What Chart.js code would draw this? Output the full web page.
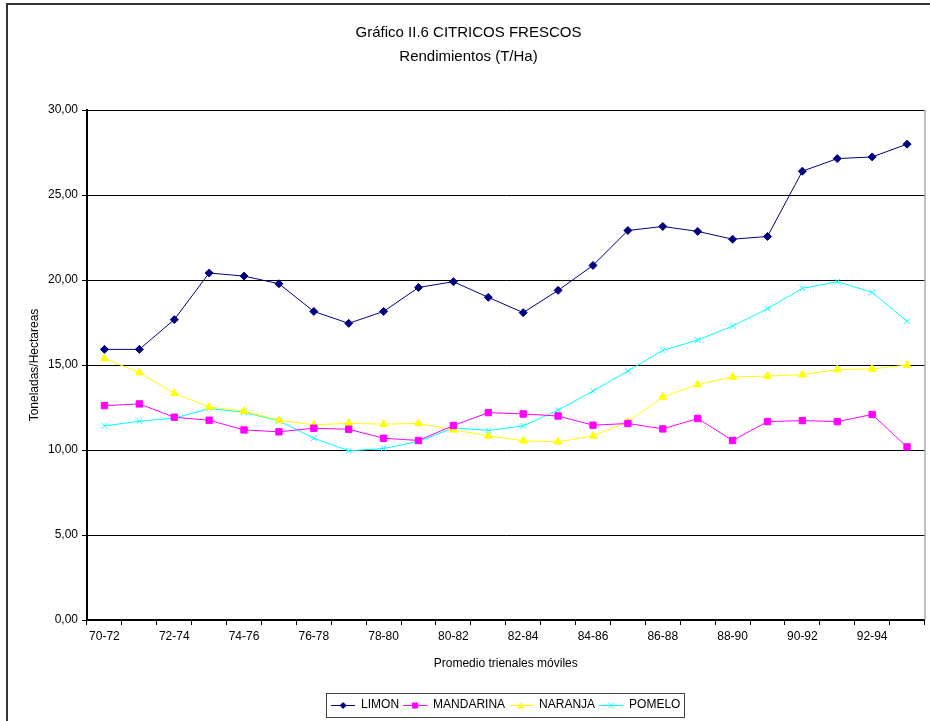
<!DOCTYPE html>
<html>
<head>
<meta charset="utf-8">
<script src="https://cdn.jsdelivr.net/npm/chart.js"></script>
<style>
  html, body { margin: 0; padding: 0; background: #fff; }
  #wrap { width: 930px; height: 721px; }
</style>
</head>
<body>
<div id="wrap"><canvas id="citricos" width="930" height="721"></canvas></div>
<script>
// periodos trienales moviles
const periodos = ['70-72', '71-73', '72-74', '73-75', '74-76', '75-77', '76-78', '77-79',
    '78-80', '79-81', '80-82', '81-83', '82-84', '83-85', '84-86', '85-87',
    '86-88', '87-89', '88-90', '89-91', '90-92', '91-93', '92-94', '93-95'];

const limon = [15.92, 15.92, 17.67, 20.41, 20.23, 19.78, 18.15, 17.45, 18.15, 19.56, 19.90, 18.98,
    18.08, 19.39, 20.86, 22.91, 23.15, 22.86, 22.40, 22.56, 26.40, 27.14, 27.24, 27.99];
const mandarina = [12.61, 12.71, 11.93, 11.75, 11.18, 11.07, 11.28, 11.22, 10.69, 10.56, 11.44, 12.20,
    12.12, 12.00, 11.46, 11.56, 11.24, 11.85, 10.56, 11.67, 11.73, 11.67, 12.09, 10.18];
const naranja = [15.38, 14.55, 13.34, 12.53, 12.28, 11.75, 11.48, 11.57, 11.52, 11.56, 11.18, 10.83,
    10.54, 10.48, 10.83, 11.65, 13.12, 13.85, 14.30, 14.35, 14.43, 14.73, 14.77, 15.00];
const pomelo = [11.42, 11.69, 11.87, 12.44, 12.22, 11.71, 10.69, 9.95, 10.09, 10.50, 11.30, 11.15,
    11.42, 12.34, 13.47, 14.65, 15.86, 16.47, 17.29, 18.31, 19.51, 19.90, 19.27, 17.57];

const yTicks = [0, 5, 10, 15, 20, 25, 30];

const FONT = 'Liberation Sans, Arial, sans-serif';

// small legend icons: line with the marker in the middle
function legendIcon(color, shape) {
    const c = document.createElement('canvas');
    c.width = 24; c.height = 10;
    const g = c.getContext('2d');
    g.strokeStyle = color; g.fillStyle = color; g.lineWidth = 1;
    g.beginPath(); g.moveTo(0, 5.5); g.lineTo(24, 5.5); g.stroke();
    const cx = 12, cy = 5.5;
    g.beginPath();
    if (shape === 'diamond') {
        g.moveTo(cx, cy - 3.5); g.lineTo(cx + 3.5, cy); g.lineTo(cx, cy + 3.5); g.lineTo(cx - 3.5, cy);
        g.closePath(); g.fill();
    } else if (shape === 'square') {
        g.rect(cx - 3, cy - 3, 6, 6); g.fill();
    } else if (shape === 'triangle') {
        g.moveTo(cx, cy - 3.5); g.lineTo(cx + 3.5, cy + 3); g.lineTo(cx - 3.5, cy + 3);
        g.closePath(); g.fill();
    } else {
        g.moveTo(cx - 3, cy - 3); g.lineTo(cx + 3, cy + 3);
        g.moveTo(cx + 3, cy - 3); g.lineTo(cx - 3, cy + 3); g.stroke();
    }
    return c;
}

const icons = [
    legendIcon('#000080', 'diamond'),
    legendIcon('#ff00ff', 'square'),
    legendIcon('#ffff00', 'triangle'),
    legendIcon('#00ffff', 'x')
];

// frame around the whole chart, right border of the plot and box around the legend
const extras = {
    id: 'extras',
    afterDraw(chart) {
        const ctx = chart.ctx;
        const a = chart.chartArea;
        ctx.save();
        ctx.strokeStyle = '#333';
        ctx.lineWidth = 2;
        ctx.beginPath();
        ctx.moveTo(7, 721); ctx.lineTo(7, 4); ctx.lineTo(930, 4);
        ctx.stroke();

        ctx.strokeStyle = '#808080';
        ctx.lineWidth = 1;
        ctx.beginPath();
        ctx.moveTo(a.right + 0.5, a.top); ctx.lineTo(a.right + 0.5, a.bottom);
        ctx.stroke();

        const hb = chart.legend.legendHitBoxes;
        if (hb && hb.length) {
            const l = Math.min(...hb.map(h => h.left)) - 5;
            const r = Math.max(...hb.map(h => h.left + h.width)) + 4;
            const t = hb[0].top - 6;
            const b = hb[0].top + hb[0].height + 6;
            ctx.strokeStyle = '#404040';
            ctx.strokeRect(Math.round(l) + 0.5, Math.round(t) + 0.5, Math.round(r - l), Math.round(b - t));
        }
        ctx.restore();
    }
};

new Chart(document.getElementById('citricos').getContext('2d'), {
    type: 'line',
    data: {
        labels: periodos,
        datasets: [{
            label: 'LIMON',
            data: limon,
            borderColor: '#000080',
            backgroundColor: '#000080',
            pointStyle: 'rectRot',
            pointRadius: 4
        }, {
            label: 'MANDARINA',
            data: mandarina,
            borderColor: '#ff00ff',
            backgroundColor: '#ff00ff',
            pointStyle: 'rect',
            pointRadius: 4.5
        }, {
            label: 'NARANJA',
            data: naranja,
            borderColor: '#ffff00',
            backgroundColor: '#ffff00',
            pointStyle: 'triangle',
            pointRadius: 4.5
        }, {
            label: 'POMELO',
            data: pomelo,
            borderColor: '#00ffff',
            backgroundColor: '#00ffff',
            pointStyle: 'crossRot',
            pointRadius: 4
        }]
    },
    options: {
        responsive: false,
        animation: false,
        layout: { padding: { left: 8, right: 1, top: 5, bottom: 0 } },
        elements: {
            line: { borderWidth: 1, tension: 0, fill: false },
            point: { borderWidth: 1 }
        },
        scales: {
            x: {
                offset: true,
                afterFit(scale) { scale.height = 75; },
                grid: {
                    offset: true,
                    drawOnChartArea: false,
                    color: '#000',
                    tickLength: 5,
                    tickColor: '#000'
                },
                border: { color: '#000', width: 2 },
                ticks: {
                    autoSkip: false,
                    maxRotation: 0,
                    padding: 4,
                    color: '#000',
                    font: { family: FONT, size: 12 },
                    callback: (v, i) => (i % 2 === 0 ? periodos[i] : '')
                },
                title: {
                    display: true,
                    text: 'Promedio trienales móviles',
                    color: '#000',
                    font: { family: FONT, size: 12 },
                    padding: { top: 0, bottom: 24 }
                }
            },
            y: {
                min: yTicks[0],
                max: yTicks[yTicks.length - 1],
                afterFit(scale) { scale.width = 79; },
                afterBuildTicks(scale) { scale.ticks = yTicks.map(v => ({ value: v })); },
                grid: { color: '#000', lineWidth: 1, tickLength: 5 },
                border: { color: '#000', width: 2 },
                ticks: {
                    padding: 4,
                    color: '#000',
                    font: { family: FONT, size: 12 },
                    callback: v => v.toFixed(2).replace('.', ',')
                },
                title: {
                    display: true,
                    text: 'Toneladas/Hectareas',
                    color: '#000',
                    font: { family: FONT, size: 12 },
                    padding: { top: 19, bottom: 0 }
                }
            }
        },
        plugins: {
            title: {
                display: true,
                text: ['Gráfico II.6 CITRICOS FRESCOS', 'Rendimientos (T/Ha)'],
                color: '#000',
                font: { family: FONT, size: 15, weight: 'normal', lineHeight: 1.6 },
                padding: { top: 16, bottom: 41 }
            },
            legend: {
                position: 'bottom',
                fullSize: false,
                labels: {
                    usePointStyle: true,
                    pointStyleWidth: 24,
                    boxHeight: 10,
                    padding: 4,
                    color: '#000',
                    font: { family: FONT, size: 12 },
                    generateLabels(chart) {
                        const items = Chart.defaults.plugins.legend.labels.generateLabels(chart);
                        items.forEach((it, i) => { it.pointStyle = icons[i]; });
                        return items;
                    }
                }
            },
            tooltip: { enabled: false }
        }
    },
    plugins: [extras]
});
</script>
</body>
</html>
